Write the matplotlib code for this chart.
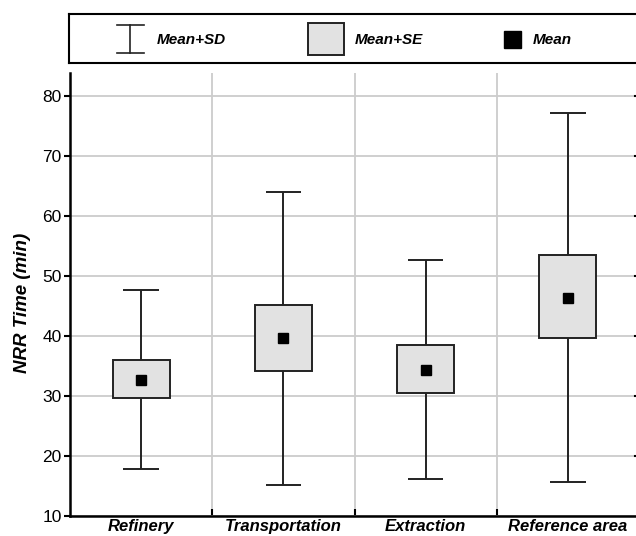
import matplotlib.pyplot as plt
from matplotlib.patches import Rectangle
from matplotlib.ticker import FixedLocator

plt.rcParams['font.family'] = ['Liberation Sans', 'DejaVu Sans']

categories = ["Refinery", "Transportation", "Extraction", "Reference area"]
means = [32.7, 39.6, 34.4, 46.4]
se_low = [29.7, 34.1, 30.5, 39.6]
se_high = [36.0, 45.1, 38.5, 53.45]
sd_low = [17.8, 15.2, 16.2, 15.7]
sd_high = [47.7, 64.0, 52.6, 77.2]

W, H = 636, 536
fig = plt.figure(figsize=(W / 100, H / 100), dpi=100)

# main plot area, right edge runs just past the image
ax = fig.add_axes([70 / W, (H - 516) / H, (639 - 70) / W, (516 - 73) / H])

x = [i + 0.5 for i in range(len(categories))]
edge = "#222222"

ax.vlines(x, sd_low, sd_high, color=edge, lw=1.4, zorder=2)
ax.hlines(sd_low, [v - 0.125 for v in x], [v + 0.125 for v in x], color=edge, lw=1.4, zorder=2)
ax.hlines(sd_high, [v - 0.125 for v in x], [v + 0.125 for v in x], color=edge, lw=1.4, zorder=2)

heights = [h - l for h, l in zip(se_high, se_low)]
ax.bar(x, heights, bottom=se_low, width=0.4, color="#e2e2e2",
       edgecolor=edge, linewidth=1.4, zorder=3)

ax.plot(x, means, "s", color="black", markersize=7.5, zorder=4)

ax.set_xlim(0, 4)
ax.set_ylim(10, 83.8)
ax.set_yticks(range(10, 81, 10))
ax.set_xticks(x)
ax.set_xticklabels(categories, fontsize=12, fontweight="bold", style="italic")
ax.xaxis.set_minor_locator(FixedLocator([1, 2, 3]))

ax.tick_params(axis="y", labelsize=12.5, length=4, width=1.5, direction="out", pad=2)
ax.tick_params(axis="x", which="major", length=0, pad=2)
ax.tick_params(axis="x", which="minor", length=5, width=1.5, direction="in")

ax.grid(axis="y", which="major", color="#cccccc", lw=1.3, zorder=0)
ax.grid(axis="x", which="minor", color="#cccccc", lw=1.3, zorder=0)
ax.set_axisbelow(True)

for side in ["left", "bottom", "right"]:
    ax.spines[side].set_linewidth(1.8)
ax.spines["top"].set_visible(False)

# short inward ticks on the right spine
for yv in range(20, 81, 10):
    ax.plot([3.97, 4.0], [yv, yv], color="black", lw=1.5, clip_on=False, zorder=5)

ax.set_ylabel("NRR Time (min)", fontsize=13.5, fontweight="bold", style="italic")
ax.yaxis.set_label_coords(-0.068, 0.48)

# legend box drawn in pixel coordinates
lg = fig.add_axes([69 / W, (H - 63) / H, (645 - 69) / W, (63 - 14) / H])
lg.set_xlim(69, 645)
lg.set_ylim(63, 14)
lg.set_xticks([])
lg.set_yticks([])
for s in lg.spines.values():
    s.set_linewidth(1.5)

lg.plot([130, 130], [25, 53], color=edge, lw=1.2)
lg.plot([117, 144], [25, 25], color=edge, lw=1.2)
lg.plot([117, 144], [53, 53], color=edge, lw=1.2)
lg.text(157, 40, "Mean+SD", fontsize=11, fontweight="bold", style="italic", va="center")

lg.add_patch(Rectangle((308, 23), 36, 32, facecolor="#e2e2e2", edgecolor=edge, lw=1.4))
lg.text(355, 40, "Mean+SE", fontsize=11, fontweight="bold", style="italic", va="center")

lg.add_patch(Rectangle((504, 31), 17, 17, facecolor="black", edgecolor="black"))
lg.text(533, 40, "Mean", fontsize=11, fontweight="bold", style="italic", va="center")

fig.savefig("out.png", dpi=100)
